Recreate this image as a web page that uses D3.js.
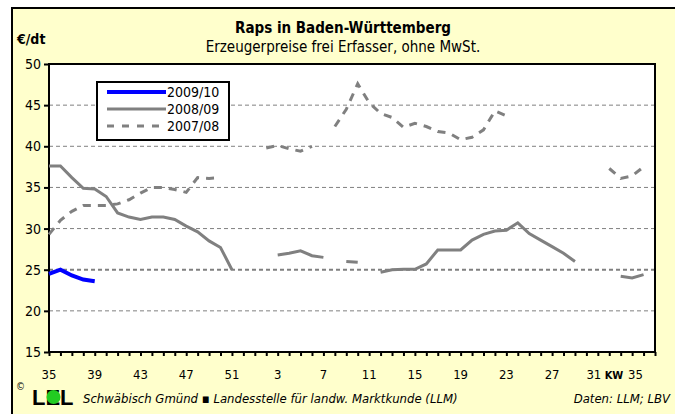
<!DOCTYPE html>
<html>
<head>
<meta charset="utf-8">
<script src="https://cdn.jsdelivr.net/npm/d3@7"></script>
<style>
  body { margin: 0; background: #fff; }
  text { font-family: "Liberation Sans Narrow", "DejaVu Sans Condensed", "Liberation Sans", Arial, sans-serif; }
</style>
</head>
<body>
<svg id="chart" width="675" height="414"></svg>
<script>
// calendar weeks, KW 35 (2009) to KW 35 (2010)
var weeks = [35,36,37,38,39,40,41,42,43,44,45,46,47,48,49,50,51,52,
             1,2,3,4,5,6,7,8,9,10,11,12,13,14,15,16,17,18,19,20,21,22,23,24,25,26,27,28,29,30,31,32,33,34,35];

var tickWeeks = [35,39,43,47,51,3,7,11,15,19,23,27,31,35];
var yTicks = [15,20,25,30,35,40,45,50];

// EUR/dt per week
var s2009 = [24.5,25.0,24.3,23.8,23.6];

var s2008 = [37.6,37.6,36.2,34.9,34.8,33.9,31.9,31.4,31.1,31.4,31.4,31.1,30.3,29.6,28.5,27.7,25.0,
             null,null,null,26.8,27.0,27.3,26.7,26.5,null,26.0,25.9,null,24.7,25.0,25.05,25.05,25.7,
             27.4,27.4,27.4,28.6,29.3,29.7,29.8,30.7,29.4,28.6,27.8,27.0,26.0,null,null,null,24.2,24.0,24.4];

var s2007 = [29.3,31.0,32.1,32.8,32.8,32.8,33.0,33.5,34.3,35.0,35.0,34.75,34.4,36.2,36.1,36.2,null,
             null,null,39.8,40.1,39.7,39.4,40.0,null,42.4,44.5,47.6,45.3,44.0,43.5,42.3,42.8,42.4,
             41.8,41.6,40.8,41.1,42.0,44.3,43.7,null,null,null,null,null,null,null,null,37.3,36.1,36.4,37.5];

var seriesNames = ["2009/10","2008/09","2007/08"];

var svg = d3.select("#chart");
var L = 49, T = 64, R = 655, B = 352;

var x = d3.scaleLinear().domain([0, 53]).range([L, R]);
var y = d3.scaleLinear().domain([15, 50]).range([B, T]);

// outer frame
svg.append("rect").attr("x",0).attr("y",0).attr("width",675).attr("height",414).style("fill","#fff");
svg.append("rect")
    .attr("x",12).attr("y",8).attr("width",700).attr("height",440)
    .style("fill","#FFFFCC").style("stroke","#000").style("stroke-width",2);

// titles
svg.append("text").attr("x",343).attr("y",33)
    .style("text-anchor","middle").style("font-weight","bold").style("font-size","15px")
    .text("Raps in Baden-Württemberg");
svg.append("text").attr("x",343).attr("y",52)
    .style("text-anchor","middle").style("font-size","15px")
    .text("Erzeugerpreise frei Erfasser, ohne MwSt.");
svg.append("text").attr("x",17).attr("y",44)
    .style("font-weight","bold").style("font-size","14px")
    .text("€/dt");

// plot area
svg.append("rect").attr("x",L).attr("y",T).attr("width",R-L).attr("height",B-T)
    .style("fill","#fff");

// gridlines
yTicks.filter(function(v){ return v > 15 && v < 50; }).forEach(function(v){
    svg.append("line")
        .attr("x1",L).attr("x2",R).attr("y1",y(v)).attr("y2",y(v))
        .style("stroke","#808080")
        .style("stroke-width", v === 25 ? 2 : 1)
        .style("stroke-dasharray","4,3");
});

// plot border
svg.append("rect").attr("x",L).attr("y",T).attr("width",R-L).attr("height",B-T)
    .style("fill","none").style("stroke","#000").style("stroke-width",2);

// y axis
var yAxis = d3.axisLeft(y).tickValues(yTicks).tickSize(5).tickPadding(3);
var gy = svg.append("g").attr("transform","translate("+L+",0)").call(yAxis);
gy.select(".domain").remove();
gy.selectAll("line").style("stroke","#000").style("stroke-width",2);
gy.selectAll("text").style("font-size","14px").style("fill","#000")
    .style("font-family", '"Liberation Sans Narrow", "DejaVu Sans Condensed", Arial, sans-serif');

// x axis, one tick per week
var xAxis = d3.axisBottom(x).tickValues(d3.range(0, 54)).tickSize(4).tickFormat("");
var gx = svg.append("g").attr("transform","translate(0,"+B+")").call(xAxis);
gx.select(".domain").remove();
gx.selectAll("line").style("stroke","#000").style("stroke-width",2);

tickWeeks.forEach(function(w, k){
    var i = k * 4;
    var last = (k === tickWeeks.length - 1);
    svg.append("text")
        .attr("x", x(i) - (last ? 8 : 0) + (k === tickWeeks.length - 2 ? -4 : 0))
        .attr("y", 379)
        .style("text-anchor","middle").style("font-size","13px")
        .text(w);
});
svg.append("text").attr("x",614).attr("y",379)
    .style("text-anchor","middle").style("font-size","11px").style("font-weight","bold")
    .text("KW");

// lines
var line = d3.line()
    .defined(function(d){ return d != null; })
    .x(function(d,i){ return x(i); })
    .y(function(d){ return y(d); });

svg.append("path").datum(s2008).attr("d",line)
    .style("fill","none").style("stroke","#808080").style("stroke-width",3);
svg.append("path").datum(s2007).attr("d",line)
    .style("fill","none").style("stroke","#808080").style("stroke-width",3)
    .style("stroke-dasharray","8,7");
svg.append("path").datum(s2009).attr("d",line)
    .style("fill","none").style("stroke","#0000FF").style("stroke-width",4);

// legend
var lg = svg.append("g");
lg.append("rect").attr("x",97).attr("y",82).attr("width",132).attr("height",58)
    .style("fill","#fff").style("stroke","#000").style("stroke-width",2);
var lstyle = [
    {c:"#0000FF", w:4, dash:null},
    {c:"#808080", w:3, dash:null},
    {c:"#808080", w:3, dash:"7,8"}
];
seriesNames.forEach(function(n, k){
    var ly = 92 + k * 17;
    lg.append("line").attr("x1",107).attr("x2",166).attr("y1",ly).attr("y2",ly)
        .style("stroke",lstyle[k].c).style("stroke-width",lstyle[k].w)
        .style("stroke-dasharray",lstyle[k].dash);
    lg.append("text").attr("x",167).attr("y",ly+5).style("font-size","14px").text(n);
});

// footer
svg.append("text").attr("x",16).attr("y",390).style("font-size","10px").text("©");
svg.append("text").attr("x",32).attr("y",405)
    .style("font-family","'Liberation Sans', Arial, sans-serif")
    .style("font-weight","bold").style("font-size","22px").text("LEL");
svg.append("circle").attr("cx",53.5).attr("cy",397).attr("r",7).style("fill","#22CC22");
svg.append("text").attr("x",83).attr("y",403)
    .style("font-style","italic").style("font-size","13px")
    .text("Schwäbisch Gmünd \u25AA Landesstelle für landw. Marktkunde (LLM)");
svg.append("text").attr("x",670).attr("y",403)
    .style("font-style","italic").style("font-size","13px").style("text-anchor","end")
    .text("Daten: LLM; LBV");
</script>
</body>
</html>
